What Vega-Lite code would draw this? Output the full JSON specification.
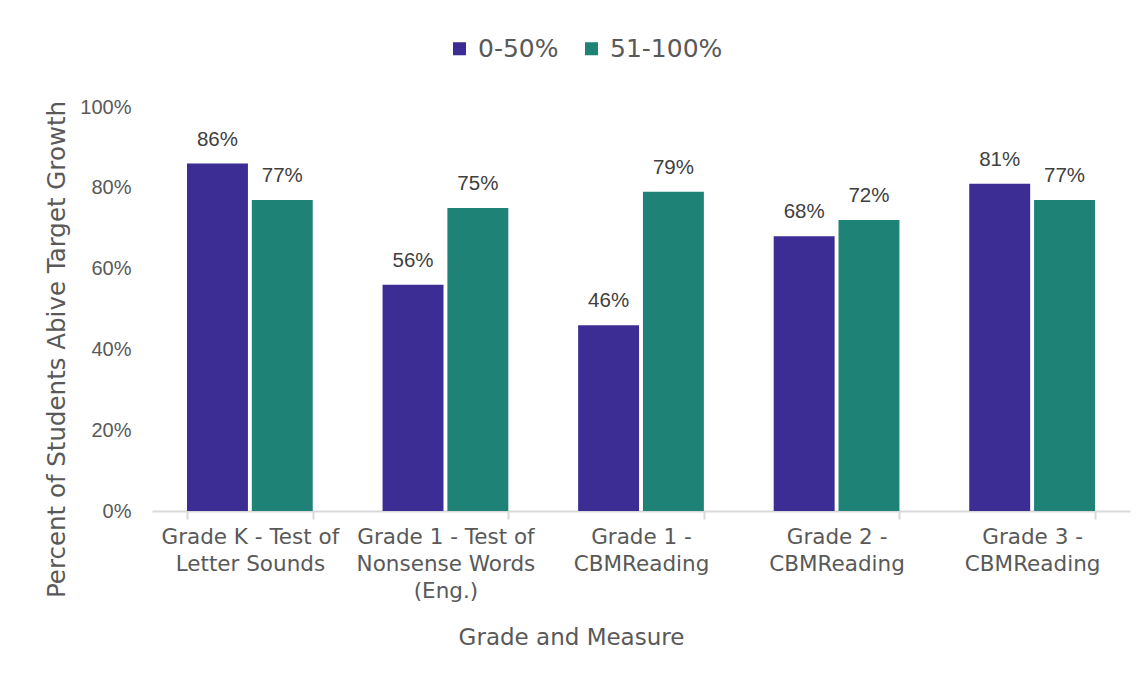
{
  "$schema": "https://vega.github.io/schema/vega-lite/v6.json",
  "autosize": "none",
  "width": 978,
  "height": 404,
  "padding": {"left": 152, "top": 107, "right": 15, "bottom": 164},
  "background": "white",
  "config": {"view": {"stroke": null}, "font": "DejaVu Sans"},
  "data": {"values": [
    {"measure": "Grade K - Test of|Letter Sounds", "group": "0-50%", "value": 0.86},
    {"measure": "Grade K - Test of|Letter Sounds", "group": "51-100%", "value": 0.77},
    {"measure": "Grade 1 - Test of|Nonsense Words|(Eng.)", "group": "0-50%", "value": 0.56},
    {"measure": "Grade 1 - Test of|Nonsense Words|(Eng.)", "group": "51-100%", "value": 0.75},
    {"measure": "Grade 1 -|CBMReading", "group": "0-50%", "value": 0.46},
    {"measure": "Grade 1 -|CBMReading", "group": "51-100%", "value": 0.79},
    {"measure": "Grade 2 -|CBMReading", "group": "0-50%", "value": 0.68},
    {"measure": "Grade 2 -|CBMReading", "group": "51-100%", "value": 0.72},
    {"measure": "Grade 3 -|CBMReading", "group": "0-50%", "value": 0.81},
    {"measure": "Grade 3 -|CBMReading", "group": "51-100%", "value": 0.77}
  ]},
  "encoding": {
    "x": {
      "field": "measure", "type": "nominal", "sort": null,
      "scale": {"paddingInner": 0.357, "paddingOuter": 0.179},
      "axis": {
        "title": "Grade and Measure",
        "labelExpr": "split(datum.label, '|')",
        "labelAngle": 0,
        "labelFontSize": 21.5,
        "labelLineHeight": 27,
        "labelColor": "#595959",
        "labelPadding": 7,
        "labelBaseline": "top",
        "tickBand": "extent",
        "ticks": true,
        "tickSize": 8,
        "tickColor": "#d9d9d9",
        "tickWidth": 2,
        "domainColor": "#d9d9d9",
        "domainWidth": 2,
        "titleFontSize": 23,
        "titleFontWeight": "normal",
        "titleColor": "#595959",
        "titleX": 419,
        "titleY": 138,
        "titleBaseline": "bottom",
        "titleAlign": "center"
      }
    },
    "xOffset": {"field": "group", "type": "nominal", "scale": {"paddingInner": 0.06}},
    "y": {
      "field": "value", "type": "quantitative",
      "scale": {"domain": [0, 1]},
      "axis": {
        "title": "Percent of Students Abive Target Growth",
        "values": [0, 0.2, 0.4, 0.6, 0.8, 1],
        "format": ".0%",
        "labelFontSize": 20,
        "labelColor": "#595959",
        "labelFont": "Liberation Sans",
        "labelPadding": 21,
        "ticks": false,
        "domain": false,
        "grid": false,
        "titleFontSize": 24.5,
        "titleFontWeight": "normal",
        "titleColor": "#595959",
        "titleX": -95,
        "titleY": 242,
        "titleAlign": "center",
        "titleBaseline": "middle"
      }
    }
  },
  "layer": [
    {
      "mark": {"type": "bar"},
      "encoding": {
        "color": {
          "field": "group", "type": "nominal",
          "scale": {"domain": ["0-50%", "51-100%"], "range": ["#3C2D94", "#1F8277"]},
          "legend": {
            "title": null,
            "orient": "none",
            "direction": "horizontal",
            "legendX": 295,
            "legendY": -71,
            "labelFontSize": 25,
            "labelColor": "#595959",
            "symbolType": "square",
            "symbolSize": 170,
            "symbolStrokeWidth": 0,
            "columnPadding": 20,
            "labelOffset": 6
          }
        }
      }
    },
    {
      "mark": {"type": "text", "baseline": "bottom", "dy": -14, "fontSize": 20.5, "color": "#404040", "font": "Liberation Sans"},
      "encoding": {
        "text": {"field": "value", "type": "quantitative", "format": ".0%"},
        "detail": {"field": "group"}
      }
    }
  ]
}
